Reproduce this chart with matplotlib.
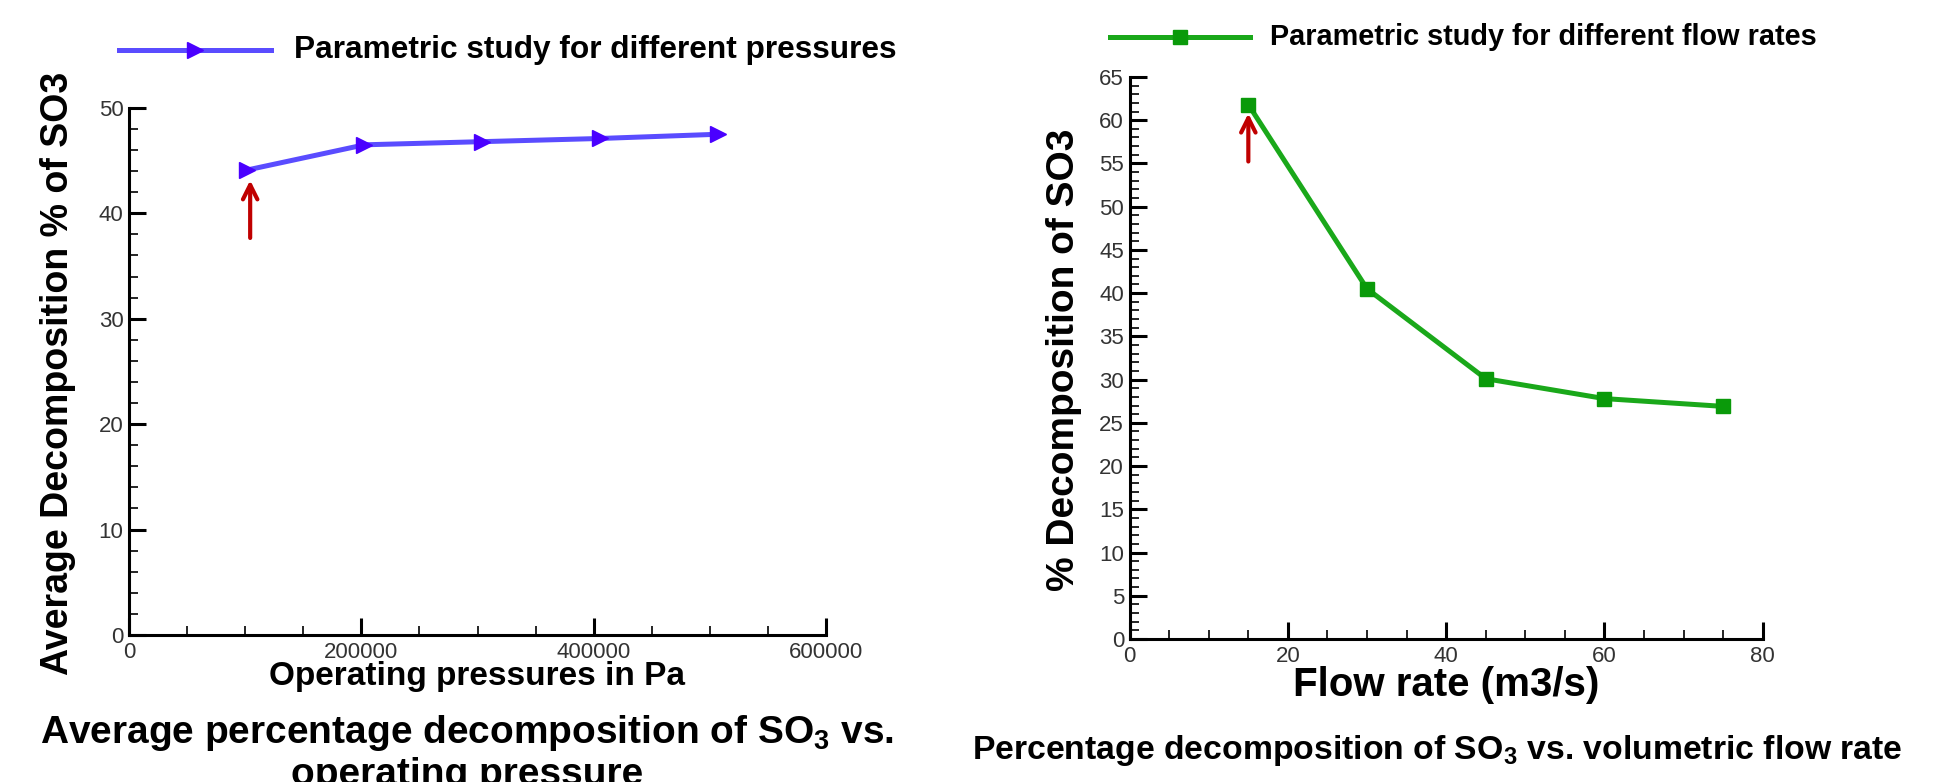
import matplotlib
matplotlib.use('Agg')
import matplotlib.pyplot as plt
from matplotlib.ticker import MultipleLocator

plt.rcParams['font.family'] = ['Liberation Sans', 'DejaVu Sans']
plt.rcParams['mathtext.fontset'] = 'custom'
plt.rcParams['mathtext.rm'] = 'Liberation Sans'
plt.rcParams['mathtext.bf'] = 'Liberation Sans:bold'

# pressure study (Pa) vs average decomposition (%)
pressure = [101325, 202650, 303975, 405300, 506625]
decomp_p = [44.1, 46.5, 46.8, 47.1, 47.5]

# flow rate study (m3/s) vs decomposition (%)
flow = [15, 30, 45, 60, 75]
decomp_f = [61.8, 40.5, 30.1, 27.8, 26.9]

label_p = 'Parametric study for different pressures'
label_f = 'Parametric study for different flow rates'

fig = plt.figure(figsize=(19.51, 7.82), dpi=100)

def style_axes(ax, tsize):
    for s in ['top', 'right']:
        ax.spines[s].set_visible(False)
    for s in ['left', 'bottom']:
        ax.spines[s].set_linewidth(2.2)
    ax.tick_params(which='major', direction='in', length=12, width=2.2,
                   labelsize=tsize, labelcolor='#333333', pad=5)
    ax.tick_params(which='minor', direction='in', length=6.5, width=1.2)
    ax.tick_params(axis='y', pad=4)

## left panel
ax1 = fig.add_axes([0.0661, 0.188, 0.3573, 0.674])
ax1.plot(pressure, decomp_p, color='#5a4cff', lw=3.6, marker='>', ms=12,
         mfc='#4a00ff', mec='#4a00ff', clip_on=False)
ax1.set_xlim(0, 600000); ax1.set_ylim(0, 50)
ax1.xaxis.set_major_locator(MultipleLocator(200000))
ax1.xaxis.set_minor_locator(MultipleLocator(50000))
ax1.yaxis.set_major_locator(MultipleLocator(10))
ax1.yaxis.set_minor_locator(MultipleLocator(2))
style_axes(ax1, 16)
ax1.set_xlabel('Operating pressures in Pa', fontsize=24, fontweight='bold', va='baseline')
ax1.xaxis.set_label_coords(0.4986, -0.094)
ax1.set_ylabel('Average Decomposition % of SO3', fontsize=27, fontweight='bold', va='center')
ax1.yaxis.set_label_coords(-0.102, 0.497)
ax1.annotate('', xy=(pressure[0] + 3000, decomp_p[0] - 0.7),
             xytext=(pressure[0] + 3000, decomp_p[0] - 6.7),
             arrowprops=dict(arrowstyle='->', color='#c00000', lw=3, mutation_scale=26))

# legend drawn as in the original (line + marker + text)
fig.add_artist(plt.Line2D([119/1951, 271/1951], [1-50/782, 1-50/782], color='#5a4cff', lw=3.6))
fig.add_artist(plt.Line2D([195/1951], [1-50/782], marker='>', ms=12, color='#4a00ff'))
fig.text(294/1951, 1-50/782, label_p, fontsize=22.8, fontweight='bold', va='center')

fig.text(467/1951, 1-733/782, r'Average percentage decomposition of SO$_\mathbf{3}$ vs.',
         fontsize=28, fontweight='bold', ha='center', va='center')
fig.text(467/1951, 1-775/782, 'operating pressure',
         fontsize=28, fontweight='bold', ha='center', va='center')

## right panel
ax2 = fig.add_axes([0.579, 0.1829, 0.3245, 0.7187])
ax2.plot(flow, decomp_f, color='#1aa81a', lw=3.6, marker='s', ms=10.5,
         mfc='#0a9a0a', mec='#0a9a0a', clip_on=False)
ax2.set_xlim(0, 80); ax2.set_ylim(0, 65)
ax2.xaxis.set_major_locator(MultipleLocator(20))
ax2.xaxis.set_minor_locator(MultipleLocator(5))
ax2.yaxis.set_major_locator(MultipleLocator(5))
ax2.yaxis.set_minor_locator(MultipleLocator(1))
style_axes(ax2, 16)
ax2.set_xlabel('Flow rate (m3/s)', fontsize=29, fontweight='bold', va='baseline')
ax2.xaxis.set_label_coords(0.50, -0.102)
ax2.set_ylabel('% Decomposition of SO3', fontsize=28, fontweight='bold', va='center')
ax2.yaxis.set_label_coords(-0.104, 0.496)
ax2.annotate('', xy=(flow[0], decomp_f[0] - 0.7), xytext=(flow[0], decomp_f[0] - 6.9),
             arrowprops=dict(arrowstyle='->', color='#c00000', lw=3, mutation_scale=26))

fig.add_artist(plt.Line2D([1110/1951, 1250/1951], [1-37/782, 1-37/782], color='#1aa81a', lw=3.6))
fig.add_artist(plt.Line2D([1180/1951], [1-37/782], marker='s', ms=10.5, color='#0a9a0a'))
fig.text(1270/1951, 1-37/782, label_f, fontsize=20.8, fontweight='bold', va='center')

fig.text(1437/1951, 1-751/782, r'Percentage decomposition of SO$_\mathbf{3}$ vs. volumetric flow rate',
         fontsize=24.3, fontweight='bold', ha='center', va='center')

plt.savefig('out.png', dpi=100)
